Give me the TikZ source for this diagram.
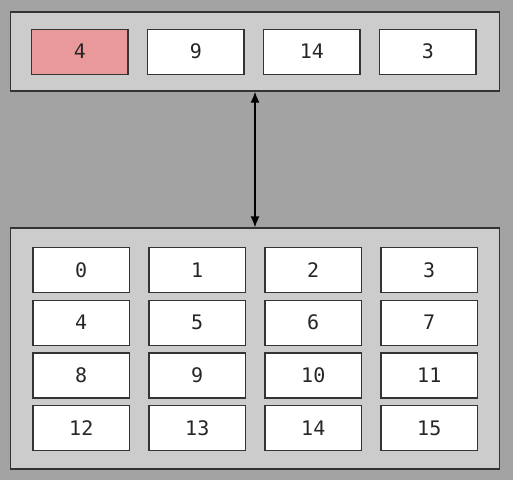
\documentclass[tikz,border=0pt]{standalone}
\usepackage{fontspec}
\setmonofont{DejaVu Sans Mono}
\usepackage{tikz}
\usetikzlibrary{arrows.meta}

\definecolor{bggray}{RGB}{163,163,163}
\definecolor{panelgray}{RGB}{204,204,204}
\definecolor{edgegray}{RGB}{51,51,51}
\definecolor{hitred}{RGB}{233,153,153}

\tikzset{
  panel/.style={draw=edgegray, fill=panelgray, line width=1.3pt, inner sep=0pt},
  cell/.style={draw=edgegray, fill=white, line width=1.2pt, inner sep=0pt,
    minimum width=96.5pt, minimum height=45pt, text=black!85,
    font=\ttfamily\fontsize{20}{20}\selectfont},
  hit/.style={cell, fill=hitred},
  link/.style={{Latex[length=11pt,width=9pt]}-{Latex[length=11pt,width=9pt]}, line width=1.3pt}
}

\begin{document}
\begin{tikzpicture}[x=1pt,y=-1pt]
\fill[bggray] (0,0) rectangle (513,480);
\useasboundingbox (0,0) rectangle (513,480);
% the two panels
\node[panel, minimum width=489pt, minimum height=79pt] (cache) at (255,51.5) {};
\node[panel, minimum width=489pt, minimum height=241pt] (memory) at (255,348.5) {};
% top row
\node[hit] (q0) at (79.8,51.7) {4};
\node[cell] (q1) at (195.8,51.7) {9};
\node[cell] (q2) at (311.8,51.7) {14};
\node[cell] (q3) at (427.8,51.7) {3};
% the grid below
\foreach \n in {0,...,15} {
  \pgfmathtruncatemacro{\col}{mod(\n,4)}
  \pgfmathtruncatemacro{\row}{div(\n,4)}
  \node[cell] (c\n) at (81.25+116*\col, 270+52.7*\row) {\n};
}
\draw[link] (cache.south) -- (memory.north);
\end{tikzpicture}
\end{document}
